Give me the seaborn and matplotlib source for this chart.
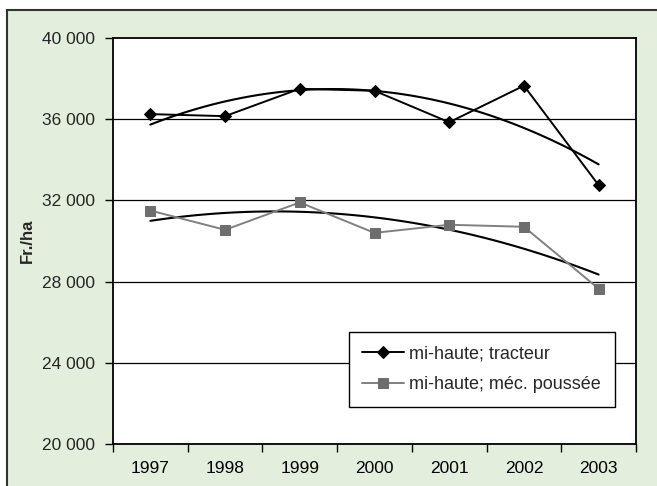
import matplotlib
matplotlib.use("Agg")
import matplotlib.pyplot as plt
import matplotlib.ticker as mticker
from matplotlib.patches import Rectangle
import numpy as np
import pandas as pd
import seaborn as sns

years = ["1997", "1998", "1999", "2000", "2001", "2002", "2003"]
tracteur = [36250, 36150, 37500, 37400, 35850, 37650, 32750]
poussee = [31500, 30550, 31900, 30400, 30800, 30700, 27650]
label_tracteur = "mi-haute; tracteur"
label_poussee = "mi-haute; méc. poussée"
yticks = [20000, 24000, 28000, 32000, 36000, 40000]

sns.set_theme(style="white")
plt.rcParams['font.family'] = ['Liberation Sans', 'DejaVu Sans']

W, H = 657, 486
fig = plt.figure(figsize=(W / 100, H / 100), dpi=100)
fig.patch.set_facecolor("white")
fig.patches.append(Rectangle((7 / W, -0.01), 1.0, (H - 10) / H + 0.01,
                             transform=fig.transFigure, facecolor="#E3EEDD",
                             edgecolor="#333333", linewidth=1.5, zorder=-5))

ax = fig.add_axes([113 / W, 1 - 444 / H, (636 - 113) / W, (444 - 38) / H])
ax.set_facecolor("white")

xpos = np.arange(len(years))
df = pd.DataFrame({"x": xpos, "tracteur": tracteur, "poussee": poussee})

for v in [24000, 28000, 32000, 36000]:
    ax.axhline(v, color="black", lw=0.9, zorder=1)

sns.lineplot(data=df, x="x", y="tracteur", ax=ax, color="black", lw=1.4,
             marker="D", markersize=6.5, markeredgecolor="black",
             label=label_tracteur, zorder=3)
sns.lineplot(data=df, x="x", y="poussee", ax=ax, color="#808080", lw=1.4,
             marker="s", markersize=7.5, markerfacecolor="#6E6E6E",
             markeredgecolor="#6E6E6E", label=label_poussee, zorder=3)

sns.regplot(data=df, x="x", y="tracteur", ax=ax, order=2, ci=None,
            scatter=False, truncate=True, line_kws=dict(color="black", lw=1.5, zorder=2))
sns.regplot(data=df, x="x", y="poussee", ax=ax, order=2, ci=None,
            scatter=False, truncate=True, line_kws=dict(color="black", lw=1.5, zorder=2))

ax.set_xlim(-0.5, len(years) - 0.5)
ax.set_ylim(20000, 40000)
ax.set_yticks(yticks)
ax.yaxis.set_major_formatter(mticker.FuncFormatter(lambda v, p: f"{int(v):,}".replace(",", " ")))
ax.set_xticks(xpos)
ax.set_xticklabels(years)
ax.set_xticks(np.arange(-0.5, len(years)), minor=True)
ax.tick_params(axis="x", which="major", length=0, pad=12, labelsize=12.5, colors="#000000")
ax.tick_params(axis="x", which="minor", length=6, width=1, direction="out", color="black", bottom=True)
ax.tick_params(axis="y", which="major", length=6, width=1, direction="out", color="black",
               pad=7, labelsize=12.5, left=True)
ax.set_xlabel("")
ax.set_ylabel("Fr./ha", fontsize=12, fontweight="bold", labelpad=5)

for s in ax.spines.values():
    s.set_visible(True)
    s.set_color("black")
    s.set_linewidth(1.3)

leg = ax.legend(loc="upper left", bbox_to_anchor=(0.451, 0.276), fontsize=13,
                frameon=True, fancybox=False, framealpha=1, edgecolor="black",
                handlelength=2.3, handletextpad=0.3, labelspacing=0.75,
                borderpad=0.75, borderaxespad=0)
leg.get_frame().set_linewidth(1.0)

fig.savefig("out.png", dpi=100)
